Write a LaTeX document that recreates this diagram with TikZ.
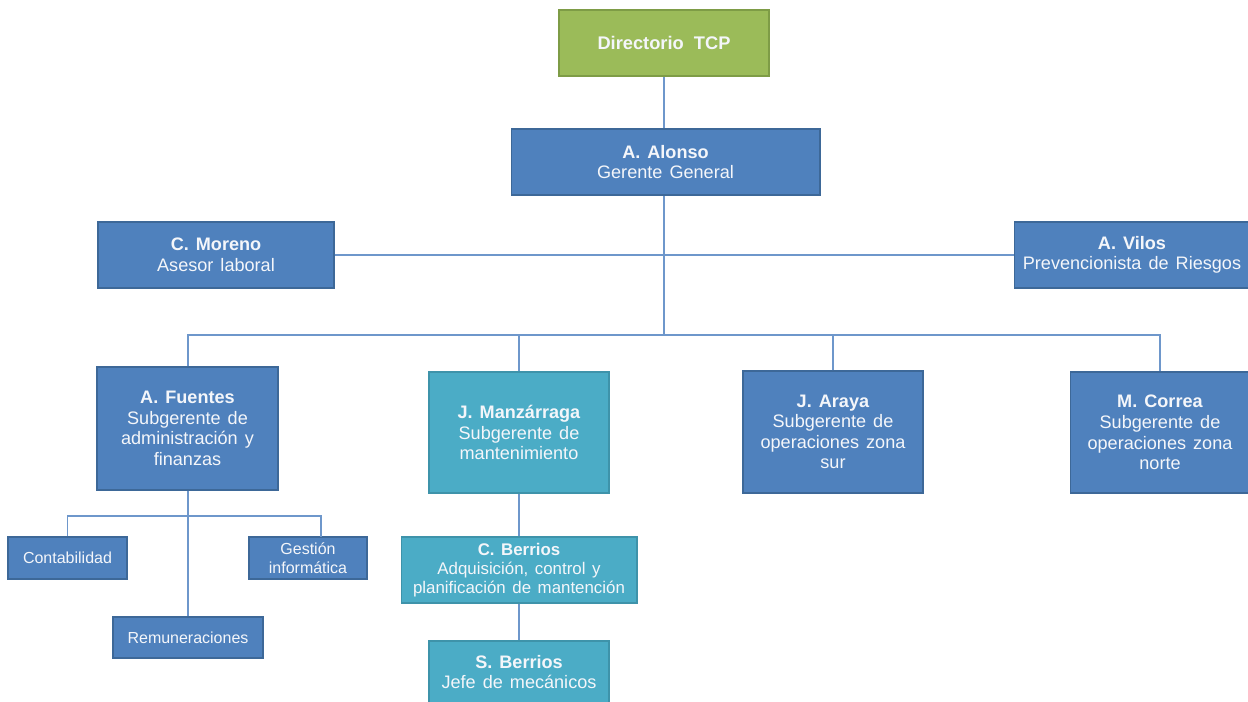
\documentclass[tikz,border=0pt]{standalone}
\usepackage{fontspec}
\setmainfont[WordSpace=1.4]{Liberation Sans}
\definecolor{boxblue}{HTML}{4F81BD}
\definecolor{boxblueedge}{HTML}{3D6898}
\definecolor{boxteal}{HTML}{4BACC6}
\definecolor{boxtealedge}{HTML}{3E93AA}
\definecolor{boxgreen}{HTML}{9BBB59}
\definecolor{boxgreenedge}{HTML}{7E9C46}
\definecolor{linkblue}{HTML}{6E97CB}
\definecolor{boxtext}{HTML}{F4F6FA}
\begin{document}
\begin{tikzpicture}[x=0.02cm,y=-0.02cm,
  box/.style={rectangle, draw=boxblueedge, fill=boxblue, line width=0.6pt,
    text=boxtext, align=center, inner sep=1pt,
    font=\fontsize{10.3}{11.7}\selectfont},
  smallbox/.style={box, font=\fontsize{9.1}{10.8}\selectfont},
  tealbox/.style={box, draw=boxtealedge, fill=boxteal},
  greenbox/.style={box, draw=boxgreenedge, fill=boxgreen},
  link/.style={draw=linkblue, line width=0.7pt}]
\useasboundingbox (0,0) rectangle (1248,702);

% boxes
\node[greenbox, minimum width=4.2cm, minimum height=1.32cm, font=\fontsize{10.4}{12}\selectfont] (dir) at (664,43) {\textbf{Directorio\, TCP}};
\node[box, minimum width=6.18cm, minimum height=1.32cm] (alonso) at (665.5,162) {\textbf{A. Alonso}\\Gerente General};
\node[box, minimum width=4.72cm, minimum height=1.32cm] (moreno) at (216,255) {\textbf{C. Moreno}\\Asesor laboral};
\node[box, minimum width=4.72cm, minimum height=1.32cm] (vilos) at (1132,255) {\textbf{A. Vilos}\\Prevencionista de Riesgos};

\node[box, minimum width=3.62cm, minimum height=2.46cm] (fuentes) at (187.5,428.5) {\textbf{A. Fuentes}\\Subgerente de\\administración y\\finanzas};
\node[tealbox, minimum width=3.6cm, minimum height=2.42cm] (manz) at (519,432.5) {\textbf{J. Manzárraga}\\Subgerente de\\mantenimiento};
\node[box, minimum width=3.6cm, minimum height=2.44cm] (araya) at (833,432) {\textbf{J. Araya}\\Subgerente de\\operaciones zona\\sur};
\node[box, minimum width=3.6cm, minimum height=2.42cm] (correa) at (1160,432.5) {\textbf{M. Correa}\\Subgerente de\\operaciones zona\\norte};

\node[smallbox, minimum width=2.38cm, minimum height=0.84cm] (contab) at (67.5,558) {Contabilidad};
\node[smallbox, minimum width=2.36cm, minimum height=0.84cm] (gestion) at (308,558) {Gestión\\informática};
\node[smallbox, minimum width=3.0cm, minimum height=0.82cm] (remun) at (188,637.5) {Remuneraciones};

\node[tealbox, minimum width=4.72cm, minimum height=1.32cm, font=\fontsize{9.6}{10.7}\selectfont] (cber) at (519,570) {\textbf{C. Berrios}\\Adquisición, control y\\planificación de mantención};
\node[tealbox, minimum width=3.6cm, minimum height=1.24cm] (sber) at (519,672) {\textbf{S. Berrios}\\Jefe de mecánicos};

% bus points
\coordinate (bus) at (664,335);
\coordinate (subbus) at (188,516);
\coordinate (gtop) at (321,537);

% connectors
\draw[link] (dir.south) -- (alonso.south -| dir.south) -- (bus);
\draw[link] (moreno.east) -- (vilos.west);
\draw[link] (fuentes.north -| subbus) |- (correa.north |- bus) -- (correa.north);
\draw[link] (manz.north) -- (manz.north |- bus);
\draw[link] (araya.north) -- (araya.north |- bus);

\draw[link] (fuentes.south -| subbus) -- (remun.north -| subbus);
\draw[link] (contab.north) |- (gtop |- subbus) -- (gtop);

\draw[link] (manz.south) -- (cber.north);
\draw[link] (cber.south) -- (sber.north);

% redraw the two upper boxes over their joining line
\node[greenbox, minimum width=4.2cm, minimum height=1.32cm, font=\fontsize{10.4}{12}\selectfont] at (dir) {\textbf{Directorio\, TCP}};
\node[box, minimum width=6.18cm, minimum height=1.32cm] at (alonso) {\textbf{A. Alonso}\\Gerente General};
\end{tikzpicture}
\end{document}
